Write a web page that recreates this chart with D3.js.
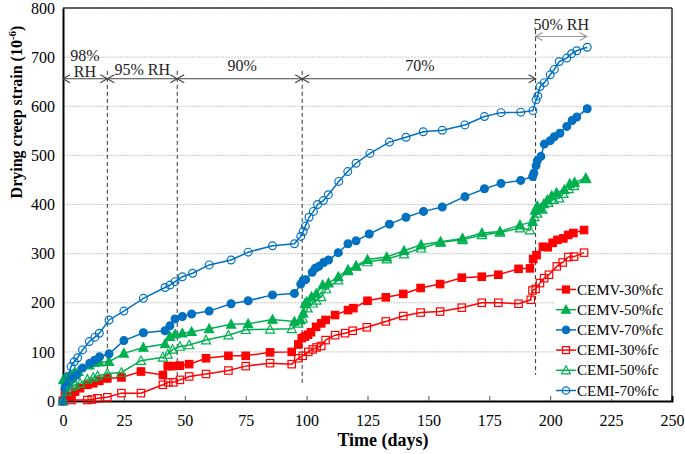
<!DOCTYPE html>
<html><head><meta charset="utf-8">
<script src="https://cdn.jsdelivr.net/npm/d3@7"></script>
<style>body{margin:0;background:#fff}svg{display:block}text{font-family:"Liberation Serif","Times New Roman",serif}</style>
</head><body><svg id="c" width="685" height="454"></svg>
<script>
const seriesNames = ["CEMV-30%fc","CEMV-50%fc","CEMV-70%fc","CEMI-30%fc","CEMI-50%fc","CEMI-70%fc"];
const seriesColors = ["#FF0000","#00B050","#0070C0","#FF0000","#00B050","#0070C0"];
const seriesMarkers = ["square","triangle","circle","square","triangle","circle"];
const seriesFilled = [true,true,true,false,false,false];

const cemv30Days = [0,0.8,3.2,4.9,7,10,12.4,14.9,18.2,24,32,41,43,45,48,51.8,58.7,67.9,75,85,93.9,96.6,98,99.3,100.6,101.8,103.9,106,107.8,111.7,117,119.2,125,132.5,139.7,146.8,154.8,163.7,171.9,178.7,187,191.7,193,194.4,197,199,201,203,205.4,207.4,209.5,213.9];
const cemv30Vals = [0,16,9,19,26,33,36,41,46,48,60,53,71,71,72,75,87,92,92,99,100,115,128,131,135,140,151,158,165,175,185,189,204,211,218,230,238,251,253,257,269,270,289,297,314,313,322,328,331,338,342,348];

const cemv50Days = [0,0.1,1.5,3.3,4.9,6.3,10.8,12.8,14.9,18.9,25,33,41.9,43.9,46,49,52.8,60,69,76,86,95,97.6,98.6,99.3,100,102,104,106.6,109,113,117,120.3,125,132.9,140,147,155,164,172,179.4,187.6,192.8,193.8,194.7,196,197.4,198.8,200.6,202.6,205.8,208,210,214.6];
const cemv50Vals = [0,43,48,52,58,60,73,78,79,80,97,109,116,131,136,138,141,147,156,157,166,162,165,179,198,202,212,219,236,240,253,267,275,288,293,306,318,324,331,342,345,358,365,388,397,392,401,409,418,424,430,442,445,454];

const cemv70Days = [0,0.8,2.2,4,5.6,8,11,13,15,18.9,25,33,41.9,43.9,46,49,52.8,60,69,76,86,95,97.6,98.6,99.6,102.3,103.5,105,107,109,113,117,120.3,125.7,134,140.8,148,155.7,165,173,179.8,187.9,192.8,193.3,194.2,194.7,196.2,197.6,200,201.7,204,206.8,209,210.9,215.2];
const cemv70Vals = [0,26,33,45,53,67,77,83,90,96,123,139,143,153,167,172,177,183,198,204,216,219,238,246,247,262,270,274,282,287,302,320,326,340,360,374,386,395,416,432,443,449,457,464,479,489,498,523,530,538,545,559,571,578,595];

const cemi30Days = [0,1.5,3.5,10,11.8,14.2,18.2,24,32,41,43.2,45.3,48,51.8,58.7,67.9,75,85,93.9,96.6,98.4,100.7,102.5,104.1,106,107.8,111.7,115.8,118.9,124.7,132.5,139.7,146.8,154.8,163.7,171.9,178.7,187,192,192.7,194,195.8,197.5,199.5,202.7,205.1,207.4,209.8,213.9];
const cemi30Vals = [0,9,2,2,3,5.5,7.5,16,16,33,38,38,43,50,55,62,71,77,75,87,92,100,105,109,112,124,134,138,143,150,162,173,180,182,190,200,200,198,206,225,228,240,250,257,274,282,293,294,302];

const cemi50Days = [0,1.5,3.3,4.9,7,10,12.4,14.2,18.2,24,32,41,43,45,48,51.8,58.7,67.9,75,85,93.9,96.6,98.4,100.4,102.5,104,106,108,113,117,120.3,125,132.9,140,147,155,164,172,179.4,187.6,191.7,193.5,194.7,196.8,199.2,201.4,203.7,205.4,207.6,209.8,214.7];
const cemi50Vals = [0,19,29,33,36,44,48,51,56,58,82,89,95,105,111,114,124,134,145,146,147,158,168,189,199,205,212,228,246,265,274,283,289,299,311,323,328,338,343,352,348,375,382,390,404,410,413,422,432,438,452];

const cemi70Days = [0,1,2,3.3,4.6,6,8,10.8,13.1,14.9,18.9,25,33,41.9,43.9,46,49,53.2,60,69,76,86,95,97.6,98.6,99.5,101,102.8,104.5,106.9,108.9,113.2,116.9,120.3,126,134,140.8,147.9,155.7,165,173,179.8,187.9,192.9,194.2,194.9,195.8,197.6,200,201.7,203.7,206.8,208.8,210.9,215.2];
const cemi70Vals = [0,30,50,70,80,88,104,121,130,138,165,183,209,231,236,243,253,260,277,287,303,316,320,335,345,356,374,386,400,408,420,447,467,484,504,527,537,548,551,562,579,587,588,591,613,621,640,648,664,675,691,698,707,713,720];

const seriesDays = [cemv30Days,cemv50Days,cemv70Days,cemi30Days,cemi50Days,cemi70Days];
const seriesVals = [cemv30Vals,cemv50Vals,cemv70Vals,cemi30Vals,cemi50Vals,cemi70Vals];

const xTicks = [0,25,50,75,100,125,150,175,200,225,250];
const yTicks = [0,100,200,300,400,500,600,700,800];

const phaseBounds = [0,18.2,46.9,98.2,194,215];
const phaseLabels = [["98%","RH"],["95% RH"],["90%"],["70%"],["50% RH"]];

const svg = d3.select("#c");
const L=63,R=672,T=8,B=401;
const x = d3.scaleLinear().domain([0,250]).range([L,R]);
const y = d3.scaleLinear().domain([0,800]).range([B,T]);

// gridlines
svg.append("g").selectAll("line").data(yTicks.filter(d=>d>0)).join("line")
  .attr("x1",L).attr("x2",R).attr("y1",d=>y(d)).attr("y2",d=>y(d))
  .attr("stroke","#c8c8c8").attr("stroke-width",1).attr("stroke-dasharray","2,1");

// frame top/right
svg.append("line").attr("x1",L).attr("x2",R).attr("y1",T).attr("y2",T).attr("stroke","#333").attr("stroke-width",1.5);
svg.append("line").attr("x1",R).attr("x2",R).attr("y1",T).attr("y2",B).attr("stroke","#333").attr("stroke-width",1.5);

// axes
const xAxis = svg.append("g").attr("transform",`translate(0,${B})`)
  .call(d3.axisBottom(x).tickValues(xTicks).tickSize(-5).tickPadding(14).tickFormat(d3.format("d")));
xAxis.select(".domain").attr("stroke","#000").attr("stroke-width",2);
xAxis.selectAll(".tick line").attr("stroke","#555");
xAxis.selectAll(".tick").filter(d=>d===0||d===250).select("line").remove();
xAxis.selectAll("text").attr("font-size",16).attr("fill","#000").attr("font-family","Liberation Serif");

const yAxis = svg.append("g").attr("transform",`translate(${L},0)`)
  .call(d3.axisLeft(y).tickValues(yTicks).tickSize(0).tickPadding(8).tickFormat(d3.format("d")));
yAxis.select(".domain").attr("stroke","#000").attr("stroke-width",2);
yAxis.selectAll("text").attr("font-size",16).attr("fill","#000").attr("font-family","Liberation Serif");

// phase dashed lines
phaseBounds.slice(1,5).forEach((d,i)=>{
  const top = i===3?755:672;
  const bot = i===3?53:33;
  svg.append("line").attr("x1",x(d)).attr("x2",x(d)).attr("y1",y(top)).attr("y2",y(bot))
    .attr("stroke","#333").attr("stroke-width",1).attr("stroke-dasharray","4,3");
});

// arrows
function arrow(x1,x2,yy,col){
  const g = svg.append("g").attr("stroke",col).attr("fill","none").attr("stroke-width",1.2);
  g.append("line").attr("x1",x1).attr("x2",x2).attr("y1",yy).attr("y2",yy);
  g.append("path").attr("d",`M${x1+7},${yy-4}L${x1},${yy}L${x1+7},${yy+4}`);
  g.append("path").attr("d",`M${x2-7},${yy-4}L${x2},${yy}L${x2-7},${yy+4}`);
}
const arrowVal = 656;
for(let i=0;i<4;i++) arrow(x(phaseBounds[i]),x(phaseBounds[i+1]),y(arrowVal),"#444");
arrow(x(phaseBounds[4]),x(phaseBounds[5]),y(742),"#999");

const ann = svg.append("g").attr("font-size",16).attr("fill","#222").attr("text-anchor","middle");
ann.append("text").attr("x",x(9)).attr("y",y(692)).text(phaseLabels[0][0]);
ann.append("text").attr("x",x(9)).attr("y",y(659)).text(phaseLabels[0][1]);
ann.append("text").attr("x",x(32.5)).attr("y",y(663)).text(phaseLabels[1][0]);
ann.append("text").attr("x",x(73.5)).attr("y",y(671)).text(phaseLabels[2][0]);
ann.append("text").attr("x",x(146.5)).attr("y",y(671)).text(phaseLabels[3][0]);
ann.append("text").attr("x",x(204.5)).attr("y",y(755)).text(phaseLabels[4][0]);

// series
function drawMarker(g,type,cx,cy,s){
  if(type==="square"){
    g.append("rect").attr("x",cx-s).attr("y",cy-s).attr("width",2*s).attr("height",2*s);
  } else if(type==="circle"){
    g.append("circle").attr("cx",cx).attr("cy",cy).attr("r",s+0.2);
  } else {
    const h=s*1.15;
    g.append("path").attr("d",`M${cx},${cy-h-0.5}L${cx+h+0.3},${cy+h-0.5}L${cx-h-0.3},${cy+h-0.5}Z`);
  }
}
const line = d3.line().x(d=>x(d[0])).y(d=>y(d[1]));
seriesNames.forEach((name,i)=>{
  const pts = seriesDays[i].map((d,j)=>[d,seriesVals[i][j]]);
  const g = svg.append("g");
  g.append("path").datum(pts).attr("d",line).attr("fill","none").attr("stroke",seriesColors[i]).attr("stroke-width",1.5);
  const mg = g.append("g").attr("stroke",seriesColors[i]).attr("stroke-width",1.2)
    .attr("fill",seriesFilled[i]?seriesColors[i]:"none");
  pts.forEach(p=>drawMarker(mg,seriesMarkers[i],x(p[0]),y(p[1]),3.7));
});

// legend
const lg = svg.append("g");
lg.append("rect").attr("x",554).attr("y",279).attr("width",114).attr("height",120).attr("fill","#fff");
seriesNames.forEach((name,i)=>{
  const yy = 289.5 + i*20.2;
  lg.append("line").attr("x1",556).attr("x2",576).attr("y1",yy).attr("y2",yy).attr("stroke",seriesColors[i]).attr("stroke-width",1.5);
  const mg = lg.append("g").attr("stroke",seriesColors[i]).attr("stroke-width",1.2).attr("fill",seriesFilled[i]?seriesColors[i]:"none");
  drawMarker(mg,seriesMarkers[i],566,yy,3.5);
  lg.append("text").attr("x",577).attr("y",yy+5).attr("font-size",15).attr("fill","#000").text(name);
});

// axis titles
svg.append("text").attr("x",383).attr("y",446).attr("text-anchor","middle").attr("font-size",18).attr("font-weight","bold").text("Time (days)");
const yt = svg.append("text").attr("transform","translate(22,112) rotate(-90)").attr("text-anchor","middle").attr("font-size",16).attr("font-weight","bold");
yt.append("tspan").text("Drying creep strain (10");
yt.append("tspan").attr("font-size",11).attr("dy",-6).text("-6");
yt.append("tspan").attr("dy",6).text(")");
</script></body></html>
